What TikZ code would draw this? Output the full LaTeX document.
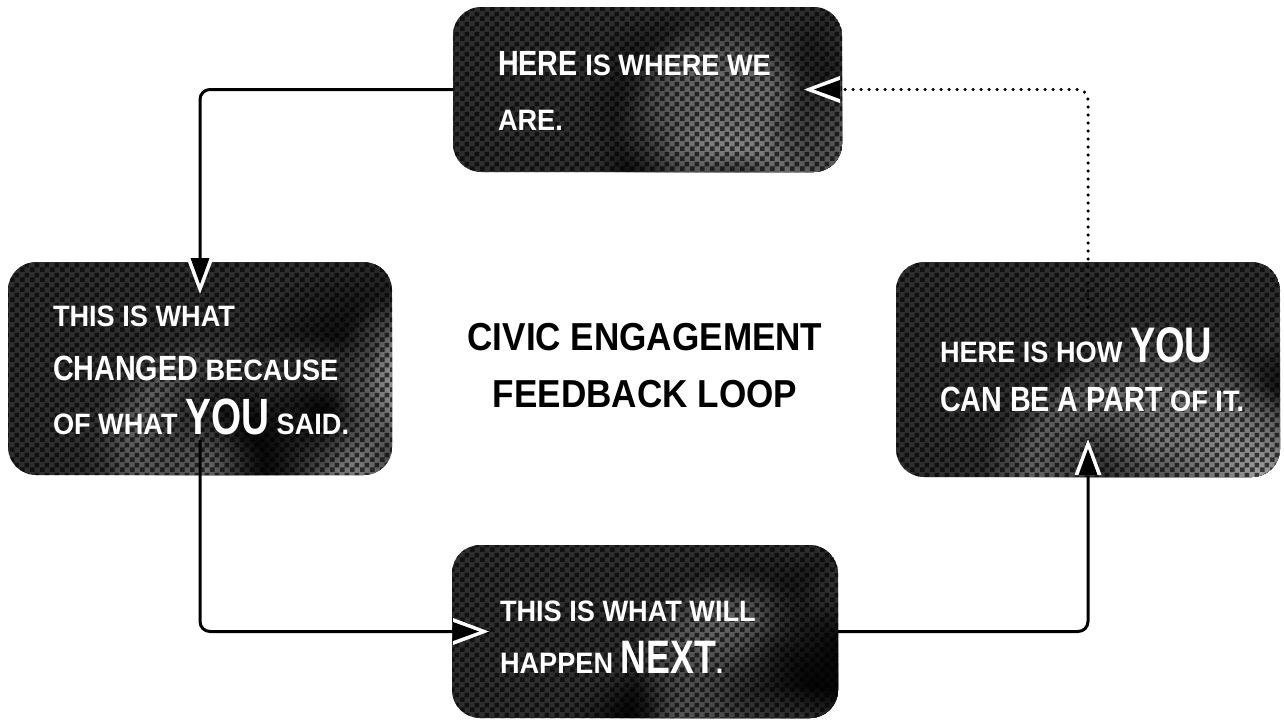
\documentclass[tikz,border=0pt]{standalone}
\usepackage{fontspec}
\usetikzlibrary{patterns,fadings,calc,decorations.markings}
\newfontfamily\smf{Liberation Sans}[FakeStretch=0.92]
\newfontfamily\bgf{Liberation Sans}[FakeStretch=0.82]
\newfontfamily\hgf{Liberation Sans}[FakeStretch=0.76]
\newfontfamily\ttlf{Liberation Sans}[FakeStretch=0.90]
\definecolor{boxbase}{HTML}{2E2E2E}
\definecolor{blobhi}{HTML}{B8B8B8}
\tikzfading[name=blob, inner color=transparent!0, outer color=transparent!100]
\pgfdeclarepatternformonly{halftone}{\pgfpointorigin}{\pgfqpoint{10pt}{10pt}}{\pgfqpoint{10pt}{10pt}}{%
  \pgfpathrectangle{\pgfpointorigin}{\pgfqpoint{5pt}{5pt}}%
  \pgfpathrectangle{\pgfqpoint{5pt}{5pt}}{\pgfqpoint{5pt}{5pt}}%
  \pgfusepath{fill}}
\newcommand\boxtexture[3]{%
  \fill[boxbase] (path picture bounding box.south west) rectangle (path picture bounding box.north east);
  \begin{scope}[shift={(path picture bounding box.north west)}]
    \pgfmathsetseed{#3}
    \foreach \i in {1,...,40}{%
      \pgfmathsetmacro\bx{rnd*#1}%
      \pgfmathsetmacro\by{rnd*#2}%
      \pgfmathsetmacro\br{55+rnd*70}%
      \pgfmathtruncatemacro\bc{rnd*100}%
      \ifnum\bc<40\relax
        \fill[black, path fading=blob] (\bx,\by) circle (\br);
      \else
        \fill[blobhi!\bc!boxbase, path fading=blob] (\bx,\by) circle (\br);
      \fi
    }
  \end{scope}
  \fill[pattern=halftone, pattern color=black, fill opacity=0.65] (path picture bounding box.south west) rectangle (path picture bounding box.north east);
}
\newcommand\bgw[1]{{\bgf\bfseries\fontsize{35}{35}\selectfont #1}}
\newcommand\hgw[2]{{\hgf\bfseries\fontsize{#1}{#1}\selectfont #2}}
\tikzset{
  panel/.style={rectangle, rounded corners=28pt, inner sep=0pt, outer sep=0pt},
  txt/.style={anchor=base west, inner sep=0pt, outer sep=0pt, text=white,
    font=\smf\bfseries\fontsize{29.5}{29.5}\selectfont},
  ttl/.style={anchor=base, inner sep=0pt, outer sep=0pt, text=black,
    font=\ttlf\bfseries\fontsize{39}{39}\selectfont},
  conn/.style={line width=3pt, rounded corners=10pt, postaction={decorate},
    decoration={markings, mark=at position 1 with {
      \fill[white, solid, sharp corners] (0pt,0pt) -- (-36pt,13.5pt) -- (-36pt,-13.5pt) -- cycle;
      \fill[black, solid, sharp corners] (-10pt,0pt) -- (-36pt,9.5pt) -- (-36pt,-9.5pt) -- cycle;}}},
  dots/.style={dash pattern=on 0pt off 8pt, line cap=round, line width=3.5pt}
}
\begin{document}
\begin{tikzpicture}[x=1pt, y=-1pt]
\useasboundingbox[fill=white] (0,0) rectangle (1284,721);

\node[panel, minimum width=389pt, minimum height=165pt,
  path picture={\boxtexture{389}{165}{11}}] (top) at (647.5,89.5) {};
\node[panel, minimum width=384pt, minimum height=213pt,
  path picture={\boxtexture{384}{213}{23}}] (left) at (200,368.5) {};
\node[panel, minimum width=384pt, minimum height=215pt,
  path picture={\boxtexture{384}{215}{37}}] (right) at (1088,369.5) {};
\node[panel, minimum width=386pt, minimum height=173pt,
  path picture={\boxtexture{386}{173}{51}}] (bottom) at (645,631.5) {};

\draw[conn] (top.west) -| ([yshift=-32pt]left.north);
\draw[conn] ([yshift=35pt]left.south) |- ([xshift=37pt]bottom.west);
\draw[conn] (bottom.east) -| ([yshift=38pt]right.south);
\draw[conn, dots] ([yshift=-53pt]right.north) |- ([xshift=-38pt]top.east);

\node[txt] (t1) at (498,75) {\bgw{HERE} IS WHERE WE};
\node[txt] (t2) at (498,130) {ARE.};

\node[txt] (l1) at (53,326) {THIS IS WHAT};
\node[txt] (l2) at (53,380) {\bgw{CHANGED} BECAUSE};
\node[txt] (l3) at (53,434) {OF WHAT \hgw{51}{YOU} SAID.};

\node[txt] (r1) at (940,362) {HERE IS HOW \hgw{50}{YOU}};
\node[txt] (r2) at (940,411) {\bgw{CAN BE A PART} OF IT.};

\node[txt] (b1) at (500,621) {THIS IS WHAT WILL};
\node[txt] (b2) at (500,673) {HAPPEN \hgw{47}{NEXT}.};

\node[ttl] (c1) at (645,350) {CIVIC ENGAGEMENT};
\node[ttl] (c2) at (645,407) {FEEDBACK LOOP};
\end{tikzpicture}
\end{document}
